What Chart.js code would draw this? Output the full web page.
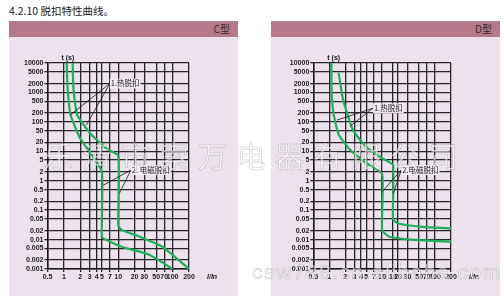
<!DOCTYPE html>
<html>
<head>
<meta charset="utf-8">
<script src="https://cdn.jsdelivr.net/npm/chart.js@4.4.1/dist/chart.umd.min.js"></script>
<style>
  body { margin: 0; width: 504px; height: 296px; background: #fff; position: relative; overflow: hidden; font-family: "Noto Sans CJK SC", sans-serif; }
  .title { position: absolute; left: 9px; top: 3px; font-size: 10.5px; color: #222; }
  .panel { position: absolute; top: 21px; width: 229px; height: 275px; background: #ede1ed; }
  .panel .hd { height: 16px; background: #b47a8c; text-align: right; font-size: 10px; line-height: 16px; padding-right: 8px; color: #3a2a30; }
  .panel canvas { position: absolute; left: 0; top: 16px; }
  .wm { position: absolute; white-space: nowrap; color: rgba(255,255,255,0.6); -webkit-text-stroke: 0.6px rgba(130,130,130,0.45); pointer-events: none; }
</style>
</head>
<body>
<div class="title">4.2.10 脱扣特性曲线。</div>
<div class="panel" style="left:9px"><div class="hd">C型</div><canvas id="chartC" width="229" height="259"></canvas></div>
<div class="panel" style="left:271px"><div class="hd">D型</div><canvas id="chartD" width="229" height="259"></canvas></div>
<div class="wm" style="left:44px;top:134px;font-size:29px;letter-spacing:9.5px">乐清市索万电器有限公司</div>
<div class="wm" style="left:252px;top:260px;font-size:21px;letter-spacing:1.5px;font-family:'Liberation Sans',sans-serif">csw788.cn.alibaba.com</div>
<script>
// tick labels
const xTicksC = [0.5, 1, 2, 3, 4, 5, 7, 10, 20, 30, 50, 70, 100, 200];
const xTicksD = [0.5, 1, 2, 3, 4, 5, 7, 10, 16, 20, 30, 50, 70, 100, 200];
const yTicks = [10000, 5000, 2000, 1000, 500, 200, 100, 50, 20, 10, 5, 2, 1, 0.5, 0.2, 0.1, 0.05, 0.02, 0.01, 0.005, 0.002, 0.001];

// C type curves (I/In, t in s)
const cLowI = [1.13, 1.17, 1.33, 1.98, 3, 5, 5, 6.1, 12, 38, 100];
const cLowT = [10000, 1400, 170, 28, 9.5, 2, 0.0125, 0.0097, 0.0056, 0.003, 0.001];
const cHighI = [1.45, 1.5, 1.77, 3, 6, 10, 10, 11.6, 25, 66, 200];
const cHighT = [10000, 1400, 170, 42, 12.6, 7, 0.03, 0.021, 0.0125, 0.0056, 0.001];

// D type curves
const dLowI = [1.1, 1.11, 1.2, 1.5, 2.5, 5, 10, 10, 13.7, 43, 200];
const dLowT = [10000, 1000, 200, 38, 11, 4, 1.7, 0.021, 0.0125, 0.0097, 0.0085];
const dHighI = [1.5, 1.62, 1.83, 2.8, 5, 10, 16, 16, 19.7, 58, 200];
const dHighT = [4700, 2000, 550, 53, 14, 5.8, 3.4, 0.05, 0.036, 0.027, 0.024];

// callouts: label, anchor [I, t], leader targets
const notesC = [
  { text: '1.热脱扣', at: [7, 2000], to: [[1.3, 170], [2.6, 78]] },
  { text: '2. 电磁脱扣', at: [17, 2.3], to: [[5.3, 0.7], [10.5, 0.37]] }
];
const notesD = [
  { text: '1.热脱扣', at: [6.7, 290], to: [[1.4, 115], [2.5, 72]] },
  { text: '2.电磁脱扣', at: [23, 2.3], to: [[10, 0.42], [16.3, 0.38]] }
];

const green = '#1fae5b';
const ink = '#1a1a1a';

function series(xs, ts) {
  return {
    data: xs.map((v, i) => ({ x: v, y: ts[i] })),
    borderColor: green,
    borderWidth: 2.2,
    pointRadius: 0,
    tension: 0.15,
    fill: false
  };
}

function notesPlugin(notes) {
  return {
    id: 'notes',
    afterDatasetsDraw(chart) {
      const { ctx, scales: { x, y }, chartArea } = chart;
      ctx.save();
      ctx.font = '7.5px "Noto Sans CJK SC", sans-serif';
      ctx.textBaseline = 'middle';
      notes.forEach(n => {
        const ax = x.getPixelForValue(n.at[0]);
        const ay = y.getPixelForValue(n.at[1]);
        ctx.strokeStyle = ink;
        ctx.lineWidth = 0.8;
        n.to.forEach(p => {
          ctx.beginPath();
          ctx.moveTo(ax, ay);
          ctx.lineTo(x.getPixelForValue(p[0]), y.getPixelForValue(p[1]));
          ctx.stroke();
        });
        const w = ctx.measureText(n.text).width;
        ctx.fillStyle = 'rgba(245,238,245,0.95)';
        ctx.fillRect(ax, ay - 5, w + 2, 10);
        ctx.fillStyle = ink;
        ctx.textAlign = 'left';
        ctx.fillText(n.text, ax + 1, ay);
      });
      // axis titles
      ctx.font = 'bold 7px "Liberation Sans", sans-serif';
      ctx.textAlign = 'left';
      ctx.fillText('t (s)', chartArea.left + 14, chartArea.top - 5);
      ctx.font = 'bold italic 7px "Liberation Sans", sans-serif';
      ctx.fillText('I/In', chartArea.right + 18, chartArea.bottom + 8);
      ctx.restore();
    }
  };
}

function makeChart(id, xTicks, datasets, notes, yWidth) {
  return new Chart(document.getElementById(id), {
    type: 'line',
    data: { datasets: datasets },
    options: {
      responsive: false,
      animation: false,
      layout: { padding: { top: 26, right: 49, bottom: 13, left: 0 } },
      plugins: { legend: { display: false }, tooltip: { enabled: false } },
      scales: {
        x: {
          type: 'logarithmic', min: 0.5, max: 200,
          afterBuildTicks: s => { s.ticks = xTicks.map(v => ({ value: v })); },
          afterFit: s => { s.height = 14; },
          ticks: { autoSkip: false, maxRotation: 0, padding: 1, color: ink, font: { size: 7, weight: 'bold', family: 'Liberation Sans' }, callback: v => String(v) },
          grid: { color: '#262626', lineWidth: 1.3, tickLength: 3 },
          border: { color: ink, width: 1.5 }
        },
        y: {
          type: 'logarithmic', min: 0.001, max: 10000,
          afterBuildTicks: s => { s.ticks = yTicks.map(v => ({ value: v })); },
          afterFit: s => { s.width = yWidth; },
          ticks: { autoSkip: false, padding: 1, color: ink, font: { size: 7, weight: 'bold', family: 'Liberation Sans' }, callback: v => String(v) },
          grid: { color: '#262626', lineWidth: 1.3, tickLength: 3 },
          border: { color: ink, width: 1.5 }
        }
      }
    },
    plugins: [notesPlugin(notes)]
  });
}

makeChart('chartC', xTicksC, [series(cLowI, cLowT), series(cHighI, cHighT)], notesC, 38.5);
makeChart('chartD', xTicksD, [series(dLowI, dLowT), series(dHighI, dHighT)], notesD, 42.3);
</script>
</body>
</html>
